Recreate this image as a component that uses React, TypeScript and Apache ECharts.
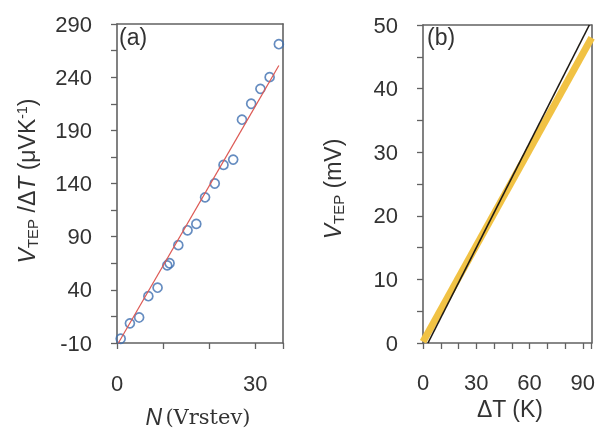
import React, { useEffect, useRef } from "react";
import * as echarts from "echarts";

// Panel (a): V_TEP/ΔT vs N
const aN = [0.8, 2.8, 4.8, 6.8, 8.8, 10.9, 11.4, 13.3, 15.3, 17.2, 19.1, 21.2, 23.1, 25.2, 27.1, 29.1, 31.1, 33.1, 35.1];
const aS = [-6, 8.5, 14, 34, 42, 63, 65, 82, 96, 102, 127, 140, 157.5, 162.5, 200, 215, 229, 240, 271];
const aFitN = [0.3, 35.1];
const aFitS = [-10, 251];

// Panel (b): V_TEP vs ΔT
const bLineT = [2.8, 93.7];
const bLineV = [0, 50];
const bDataT = [0, 95];
const bDataV = [0.2, 48];

const FONT = "Liberation Sans";
const INK = "#333";
const FRAME = "#626262";
const TICK_FS = 22;
const NAME_FS = 23;

function mkLine() {
  return { show: true, onZero: false, lineStyle: { color: FRAME, width: 1.6 } };
}
function mkTick() {
  return { show: true, length: 6, lineStyle: { color: FRAME, width: 1.3 } };
}
function mkMinor() {
  return { show: true, splitNumber: 2, length: 6, lineStyle: { color: FRAME, width: 1.3 } };
}
function mkLabel(margin: number, fmt?: (v: number) => string) {
  const o: any = { show: true, color: INK, fontSize: TICK_FS, fontFamily: FONT, margin };
  if (fmt) o.formatter = fmt;
  return o;
}
const only30 = (v: number) => (v % 30 === 0 ? String(v) : "");

function frameAxis(gridIndex: number, position: string, min: number, max: number) {
  return {
    gridIndex, type: "value", position, min, max,
    axisLine: mkLine(), axisTick: { show: false }, axisLabel: { show: false },
    splitLine: { show: false },
  };
}

export default function App() {
  const ref = useRef<HTMLDivElement>(null);
  useEffect(() => {
    if (!ref.current) return;
    const chart = echarts.init(ref.current, null, { renderer: "svg" });
    chart.setOption({
      animation: false,
      grid: [
        { left: 117, top: 24, width: 166, height: 319 },
        { left: 423, top: 25, width: 171, height: 318 },
      ],
      xAxis: [
        {
          gridIndex: 0, type: "value", position: "bottom", min: 0, max: 36, interval: 10,
          axisLine: mkLine(), axisTick: mkTick(), splitLine: { show: false },
          axisLabel: mkLabel(29, only30),
        },
        {
          gridIndex: 1, type: "value", position: "bottom", min: 0, max: 95, interval: 10,
          axisLine: mkLine(), axisTick: mkTick(), splitLine: { show: false },
          axisLabel: mkLabel(28, only30),
        },
        frameAxis(0, "top", 0, 36),
        frameAxis(1, "top", 0, 95),
      ],
      yAxis: [
        {
          gridIndex: 0, type: "value", position: "left", min: -10, max: 290, interval: 50,
          axisLine: mkLine(), axisTick: mkTick(), minorTick: mkMinor(),
          splitLine: { show: false }, minorSplitLine: { show: false },
          axisLabel: mkLabel(25),
        },
        {
          gridIndex: 1, type: "value", position: "left", min: 0, max: 50, interval: 10,
          axisLine: mkLine(), axisTick: mkTick(), minorTick: mkMinor(),
          splitLine: { show: false }, minorSplitLine: { show: false },
          axisLabel: mkLabel(25),
        },
        frameAxis(0, "right", -10, 290),
        frameAxis(1, "right", 0, 50),
      ],
      graphic: [
        { type: "text", left: 119, top: 25, style: { text: "(a)", fontSize: NAME_FS, fontFamily: FONT, fill: INK } },
        { type: "text", left: 427, top: 25, style: { text: "(b)", fontSize: NAME_FS, fontFamily: FONT, fill: INK } },
        {
          type: "text", x: 198, y: 417,
          style: {
            text: "{n|N} {r|(Vrstev)}", align: "center", verticalAlign: "middle", fill: INK,
            rich: {
              n: { fontFamily: FONT, fontStyle: "italic", fontSize: NAME_FS, fill: INK },
              r: { fontFamily: "DejaVu Serif", fontSize: 21, fill: INK },
            },
          },
        },
        {
          type: "text", x: 510, y: 409,
          style: { text: "ΔT (K)", align: "center", verticalAlign: "middle", fontSize: NAME_FS, fontFamily: FONT, fill: INK },
        },
        {
          type: "text", x: 27, y: 181, rotation: Math.PI / 2,
          style: {
            text: "{v|V}{sub|TEP}{t| /Δ}{v|T}{t| (μVK}{sup|-1}{t|)}", align: "center", verticalAlign: "middle", fill: INK,
            rich: {
              v: { fontFamily: FONT, fontStyle: "italic", fontSize: NAME_FS, fill: INK },
              t: { fontFamily: FONT, fontSize: NAME_FS, fill: INK },
              sub: { fontFamily: FONT, fontSize: 15, fill: INK, padding: [11, 0, 0, 0] },
              sup: { fontFamily: FONT, fontSize: 14, fill: INK, padding: [0, 0, 11, 0] },
            },
          },
        },
        {
          type: "text", x: 333, y: 189, rotation: Math.PI / 2,
          style: {
            text: "{v|V}{sub|TEP}{t| (mV)}", align: "center", verticalAlign: "middle", fill: INK,
            rich: {
              v: { fontFamily: FONT, fontStyle: "italic", fontSize: NAME_FS, fill: INK },
              t: { fontFamily: FONT, fontSize: NAME_FS, fill: INK },
              sub: { fontFamily: FONT, fontSize: 15, fill: INK, padding: [11, 0, 0, 0] },
            },
          },
        },
      ],
      series: [
        {
          type: "line", xAxisIndex: 0, yAxisIndex: 0, showSymbol: false, silent: true,
          data: aFitN.map((x, i) => [x, aFitS[i]]),
          lineStyle: { color: "#dd5a55", width: 1.2 },
        },
        {
          type: "scatter", xAxisIndex: 0, yAxisIndex: 0, symbol: "circle", symbolSize: 9,
          data: aN.map((x, i) => [x, aS[i]]),
          itemStyle: { color: "rgba(0,0,0,0)", borderColor: "#3f6fb0", borderWidth: 1.7 },
        },
        {
          type: "line", xAxisIndex: 1, yAxisIndex: 1, showSymbol: false, silent: true, clip: true,
          data: bDataT.map((x, i) => [x, bDataV[i]]),
          lineStyle: { color: "#f1c244", width: 7 },
        },
        {
          type: "line", xAxisIndex: 1, yAxisIndex: 1, showSymbol: false, silent: true, clip: true,
          data: bLineT.map((x, i) => [x, bLineV[i]]),
          lineStyle: { color: "#1e1a14", width: 1.6 },
        },
      ],
    });
    return () => chart.dispose();
  }, []);
  return <div ref={ref} style={{ position: "fixed", left: 0, top: 0, width: 598, height: 430 }} />;
}
